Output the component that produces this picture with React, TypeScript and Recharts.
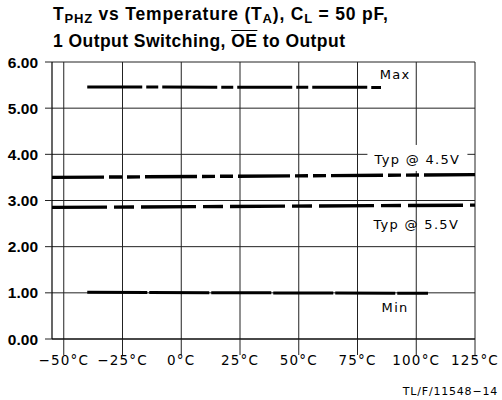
import React from 'react';
import { LineChart, Line, XAxis, YAxis, CartesianGrid, ReferenceDot } from 'recharts';

const xTicks = [-50, -25, 0, 25, 50, 75, 100, 125];
const xTickLabels = ['−50°C', '−25°C', '0°C', '25°C', '50°C', '75°C', '100°C', '125°C'];
const yTicks = [0, 1, 2, 3, 4, 5, 6];
const yTickLabels = ['0.00', '1.00', '2.00', '3.00', '4.00', '5.00', '6.00'];

const maxTemps = [-40, 85];
const maxValues = [5.46, 5.45];
const typ45Temps = [-55, 125];
const typ45Values = [3.5, 3.56];
const typ55Temps = [-55, 125];
const typ55Values = [2.85, 2.9];
const minTemps = [-40, 105];
const minValues = [1.01, 0.99];

const toRows = (ts: number[], vs: number[]) => ts.map((t, i) => ({ t, v: vs[i] }));
const maxData = toRows(maxTemps, maxValues);
const typ45Data = toRows(typ45Temps, typ45Values);
const typ55Data = toRows(typ55Temps, typ55Values);
const minData = toRows(minTemps, minValues);

const XTick = (props: any) => {
  const { x, y, payload } = props;
  const idx = xTicks.indexOf(payload.value);
  return (
    <text x={x} y={y} dy={10} textAnchor="middle" fontFamily="DejaVu Sans" fontSize={13.5} letterSpacing={1.2} fill="#000">
      {xTickLabels[idx]}
    </text>
  );
};

const YTick = (props: any) => {
  const { x, y, payload } = props;
  const idx = yTicks.indexOf(payload.value);
  return (
    <text x={x} y={y} dy={5.5} textAnchor="end" fontFamily="Liberation Sans" fontWeight="bold" fontSize={15.5} fill="#000">
      {yTickLabels[idx]}
    </text>
  );
};

const makeLabel = (text: string, boxed: boolean) => (props: any) => {
  const { cx, cy } = props;
  return (
    <g>
      {boxed && <rect x={cx - 50} y={cy - 14} width={100} height={26} fill="#fff" />}
      <text x={cx} y={cy} dy={5} textAnchor="middle" fontFamily="DejaVu Sans" fontSize={13} letterSpacing={1.3} fill="#000">
        {text}
      </text>
    </g>
  );
};

const subStyle: React.CSSProperties = { fontSize: 13, verticalAlign: '-3px' };

export default function App() {
  return (
    <div style={{ position: 'absolute', left: 0, top: 0, width: 502, height: 400, background: '#fff' }}>
      <LineChart
        width={502}
        height={400}
        margin={{ top: 62, right: 27, left: 0, bottom: 31 }}
        style={{ position: 'absolute', left: 0, top: 0 }}
      >
        <CartesianGrid stroke="#222" strokeWidth={1} horizontalValues={yTicks} verticalValues={xTicks} />
        <XAxis
          type="number"
          dataKey="t"
          domain={[-55, 125]}
          ticks={xTicks}
          allowDataOverflow
          height={30}
          tickSize={16}
          tickMargin={0}
          tickLine={{ stroke: '#222' }}
          axisLine={{ stroke: '#000', strokeWidth: 1.2 }}
          tick={<XTick />}
          interval={0}
        />
        <YAxis
          type="number"
          domain={[0, 6]}
          ticks={yTicks}
          width={52}
          tickSize={7}
          tickMargin={7}
          tickLine={{ stroke: '#222' }}
          axisLine={{ stroke: '#000', strokeWidth: 1.2 }}
          tick={<YTick />}
          interval={0}
        />
        <Line data={maxData} dataKey="v" stroke="#000" strokeWidth={3} strokeDasharray="55 4 12 4" dot={false} isAnimationActive={false} />
        <Line data={typ45Data} dataKey="v" stroke="#000" strokeWidth={3.4} strokeDasharray="52 5 13 5 13 5" dot={false} isAnimationActive={false} />
        <Line data={typ55Data} dataKey="v" stroke="#000" strokeWidth={3.4} strokeDasharray="55 7 20 7" dot={false} isAnimationActive={false} />
        <Line data={minData} dataKey="v" stroke="#000" strokeWidth={3} strokeDasharray="60 2" dot={false} isAnimationActive={false} />
        <ReferenceDot x={91} y={5.73} r={1} shape={makeLabel('Max', false)} />
        <ReferenceDot x={100.5} y={3.9} r={1} shape={makeLabel('Typ @ 4.5V', true)} />
        <ReferenceDot x={100} y={2.49} r={1} shape={makeLabel('Typ @ 5.5V', false)} />
        <ReferenceDot x={91} y={0.69} r={1} shape={makeLabel('Min', false)} />
      </LineChart>
      <div
        style={{
          position: 'absolute',
          left: 53,
          top: 3,
          fontFamily: 'Liberation Sans',
          fontWeight: 'bold',
          fontSize: 17.5,
          lineHeight: '22px',
          color: '#000',
          whiteSpace: 'pre',
        }}
      >
        <div style={{ letterSpacing: 0.8 }}>
          T<sub style={subStyle}>PHZ</sub> vs Temperature (T<sub style={subStyle}>A</sub>), C
          <sub style={subStyle}>L</sub>{' = '}50 pF,
        </div>
        <div style={{ letterSpacing: 0.45 }}>
          1 Output Switching, <span style={{ textDecoration: 'overline' }}>OE</span> to Output
        </div>
      </div>
      <div
        style={{
          position: 'absolute',
          right: 4,
          top: 385,
          fontFamily: 'DejaVu Sans',
          fontSize: 11,
          letterSpacing: 0.8,
          color: '#000',
          whiteSpace: 'nowrap',
        }}
      >
        TL/F/11548−14
      </div>
    </div>
  );
}
